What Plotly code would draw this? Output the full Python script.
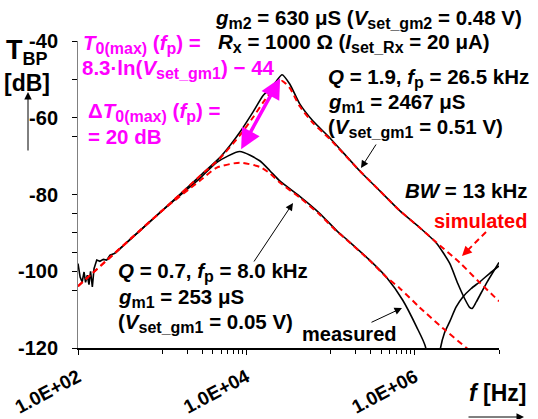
import math
import plotly.graph_objects as go

FONT = "Liberation Sans, Arial, sans-serif"

# ---------------- data (frequency in Hz, transfer in dB) ----------------
# measured low-frequency noisy part (shared by both measured curves)
f_meas_lf = [100, 106, 112, 118, 123, 129, 135, 141, 148, 155, 167, 182, 200, 219, 240, 275]
db_meas_lf = [-98.0, -101.5, -102.8, -100.2, -102.9, -101.0, -103.5, -100.0, -104.1,
              -99.3, -97.1, -97.4, -96.9, -97.1, -95.8, -95.3]

# measured, Q = 1.9, fp = 26.5 kHz
f_meas_q19 = [275, 1000, 2800, 4830, 6350, 8350, 11900, 15800, 19000, 22800, 26500, 32700,
              43000, 61400, 97500, 221000, 382000, 661000, 1.14e6, 1.81e6, 2.59e6, 3.24e6,
              3.90e6, 4.47e6, 4.81e6, 5.37e6, 7.05e6, 1.0e7]
db_meas_q19 = [-95.3, -84.2, -75.2, -70.4, -67.3, -63.8, -58.6, -54.2, -52.5, -50.4, -48.8, -51.2,
               -56.4, -60.8, -65.2, -73.8, -79.0, -84.2, -88.6, -92.7, -97.9, -103.2,
               -107.1, -109.4, -109.7, -108.0, -103.2, -97.7]

# simulated, Q = 1.9
f_sim_q19 = [100, 1000, 2800, 4830, 8350, 11900, 15800, 19000, 22800, 26500, 32700, 43000,
             61400, 97500, 221000, 382000, 661000, 1.14e6, 1.81e6, 3.40e6, 5.87e6, 1.0e7]
db_sim_q19 = [-103.9, -84.2, -75.2, -70.6, -64.6, -60.0, -56.0, -53.6, -51.5, -50.4, -52.2, -57.0,
              -61.3, -65.5, -73.8, -79.0, -84.2, -88.6, -92.5, -97.7, -102.9, -107.8]

# measured, Q = 0.7, fp = 8.0 kHz
f_meas_q07 = [275, 1000, 2800, 4460, 8350, 14400, 19000, 24700, 43000, 74000, 118000, 155000,
              291000, 463000, 717000, 1.05e6, 1.34e6, 1.65e6, 2.02e6, 2.25e6, 2.59e6, 3.10e6,
              3.72e6, 4.68e6, 5.87e6, 7.71e6, 1.0e7]
db_meas_q07 = [-95.3, -84.2, -75.8, -71.6, -68.8, -71.2, -73.8, -76.4, -80.5, -84.9, -89.4, -91.7,
               -97.1, -101.6, -107.5, -114.5, -119.7, -140.0, -120.0, -116.1, -113.2, -109.3,
               -106.7, -104.5, -102.8, -100.6, -98.6]

# simulated, Q = 0.7
f_sim_q07 = [100, 1000, 2800, 4460, 8350, 14400, 19000, 24700, 43000, 74000, 118000, 155000,
             291000, 463000, 661000, 1.14e6, 2.14e6, 4.11e6, 1.0e7]
db_sim_q07 = [-103.9, -84.2, -76.4, -73.0, -71.7, -72.8, -74.5, -76.8, -80.8, -85.2, -89.6, -91.8,
              -97.2, -101.6, -104.4, -109.4, -114.8, -120.0, -127.7]

x_tick_vals = [1e2, 1e4, 1e6]
x_tick_text = ["1.0E+02", "1.0E+04", "1.0E+06"]
x_minor_vals = [1e3, 2e3, 3e3, 4e3, 5e3, 6e3, 7e3, 8e3, 9e3,
                1e5, 2e5, 3e5, 4e5, 5e5, 6e5, 7e5, 8e5, 9e5, 1e7]
y_tick_vals = [-120, -100, -80, -60, -40]
y_tick_text = ["-120", "-100", "-80", "-60", "-40"]
y_minor_vals = [-105, -95, -90, -85, -65, -50]

# ---------------- layout geometry ----------------
W, H = 538, 419
ML, MR, MT, MB = 78, 39, 41, 71
PW, PH = W - ML - MR, H - MT - MB


def px(x):
    return (x - ML) / PW


def py(y):
    return (H - MB - y) / PH


def sub(s, size=16):
    return '<sub><span style="font-size:%dpx">%s</span></sub>' % (size, s)


fig = go.Figure()

black = dict(color="black", width=1.6, shape="spline", smoothing=0.6)
red = dict(color="#FF0000", width=2, dash="6px,4px", shape="spline", smoothing=0.6)

fig.add_trace(go.Scatter(x=f_meas_lf, y=db_meas_lf, mode="lines",
                         line=dict(color="black", width=1.6)))
fig.add_trace(go.Scatter(x=f_meas_q19, y=db_meas_q19, mode="lines", line=black))
fig.add_trace(go.Scatter(x=f_meas_q07, y=db_meas_q07, mode="lines", line=black))
fig.add_trace(go.Scatter(x=f_sim_q19, y=db_sim_q19, mode="lines", line=red))
fig.add_trace(go.Scatter(x=f_sim_q07, y=db_sim_q07, mode="lines", line=red))


def txt(x, y, s, size=20.5, color="black"):
    return dict(xref="paper", yref="paper", x=px(x), y=py(y), text=s, showarrow=False,
                xanchor="left", yanchor="middle",
                font=dict(size=size, color=color, family=FONT))


def arrow(tipx, tipy, tailx, taily, color="black", width=1, size=1.5):
    return dict(xref="paper", yref="paper", x=px(tipx), y=py(tipy),
                ax=tailx - tipx, ay=taily - tipy, axref="pixel", ayref="pixel",
                showarrow=True, arrowhead=2, arrowwidth=width, arrowsize=size,
                arrowcolor=color, text="")


MAG = "#FF00FF"
ann = [
    txt(213, 19, "<b><i>g</i>%s = 630 μS (<i>V</i>%s = 0.48 V)</b>" % (sub("m2"), sub("set_gm2"))),
    txt(216, 43, "<b><i>R</i>%s = 1000 Ω (<i>I</i>%s = 20 μA)</b>" % (sub("x"), sub("set_Rx"))),
    txt(81, 44, "<b><i>T</i>%s (<i>f</i>%s) =</b>" % (sub("0(max)"), sub("p")), color=MAG),
    txt(80, 69, "<b>8.3·ln(<i>V</i>%s) − 44</b>" % sub("set_gm1"), color=MAG),
    txt(86, 112, "<b>Δ<i>T</i>%s (<i>f</i>%s) =</b>" % (sub("0(max)"), sub("p")), color=MAG),
    txt(86, 136, "<b>= 20 dB</b>", color=MAG),
    txt(326, 78, "<b><i>Q</i> = 1.9, <i>f</i>%s = 26.5 kHz</b>" % sub("p")),
    txt(326, 103, "<b><i>g</i>%s = 2467 μS</b>" % sub("m1")),
    txt(326, 128, "<b>(<i>V</i>%s = 0.51 V)</b>" % sub("set_gm1")),
    txt(403, 190, "<b><i>BW</i> = 13 kHz</b>"),
    txt(432, 221, "<b>simulated</b>", size=20, color="#FF0000"),
    txt(116, 272, "<b><i>Q</i> = 0.7, <i>f</i>%s = 8.0 kHz</b>" % sub("p")),
    txt(116, 298, "<b><i>g</i>%s = 253 μS</b>" % sub("m1")),
    txt(116, 323, "<b>(<i>V</i>%s = 0.05 V)</b>" % sub("set_gm1")),
    txt(300, 334, "<b>measured</b>", size=20),
    txt(4, 52, "<b>T%s</b>" % sub("BP", 18), size=27),
    txt(2, 83, "<b>[dB]</b>", size=23),
    txt(467, 393, "<b><i>f</i> [Hz]</b>", size=23),
    # pointer arrows
    arrow(293, 203, 253, 263),
    arrow(361, 168, 377, 143),
    arrow(402, 308, 370, 323),
    arrow(28, 92, 28, 152),
    arrow(524, 417, 467, 417),
    arrow(462, 256, 467, 251, color="#FF0000", width=1.5, size=1.3),
]

# magenta double arrow between the two measured peaks
i1 = db_meas_q19.index(max(db_meas_q19))
i2 = db_meas_q07.index(max(db_meas_q07))
ann.append(dict(xref="x", yref="y", axref="x", ayref="y",
                x=math.log10(f_meas_q19[i1]), y=db_meas_q19[i1],
                ax=math.log10(f_meas_q07[i2]), ay=db_meas_q07[i2],
                showarrow=True, arrowhead=2, startarrowhead=2, arrowside="end+start",
                arrowwidth=3.5, arrowsize=1.15, startarrowsize=1.15,
                standoff=4, startstandoff=1, arrowcolor=MAG, text=""))

shapes = [dict(type="line", xref="paper", yref="paper",
               x0=px(486), y0=py(232), x1=px(467), y1=py(251),
               line=dict(color="#FF0000", width=2, dash="6px,4px"))]

fig.update_layout(
    width=W, height=H,
    margin=dict(l=ML, r=MR, t=MT, b=MB, pad=0, autoexpand=False),
    paper_bgcolor="white", plot_bgcolor="white",
    showlegend=False,
    annotations=ann,
    shapes=shapes,
    xaxis=dict(type="log", range=[2, 7], showgrid=False, zeroline=False, automargin=False,
               showline=True, linecolor="black", linewidth=1.5,
               ticks="outside", ticklen=5, tickcolor="black", tickwidth=1,
               tickmode="array", tickvals=x_tick_vals,
               ticktext=["<b>%s</b>" % t for t in x_tick_text],
               tickangle=-28, tickfont=dict(size=19, family=FONT, color="black"),
               ticklabelstandoff=4,
               minor=dict(tickmode="array", tickvals=x_minor_vals, ticks="outside",
                          ticklen=4, tickcolor="black", showgrid=False)),
    yaxis=dict(range=[-120, -40], showgrid=False, zeroline=False, automargin=False,
               showline=True, linecolor="#808080", linewidth=1,
               ticks="outside", ticklen=5, tickcolor="black", tickwidth=1,
               tickmode="array", tickvals=y_tick_vals,
               ticktext=["<b>%s</b>" % t for t in y_tick_text],
               tickfont=dict(size=20, family=FONT, color="black"),
               ticklabelstandoff=10,
               minor=dict(tickmode="array", tickvals=y_minor_vals, ticks="outside",
                          ticklen=5, tickcolor="black", showgrid=False)),
)

fig.write_html("out.html",
               config={"displayModeBar": False},
               post_script="document.body.style.margin='0';document.body.style.padding='0';")
